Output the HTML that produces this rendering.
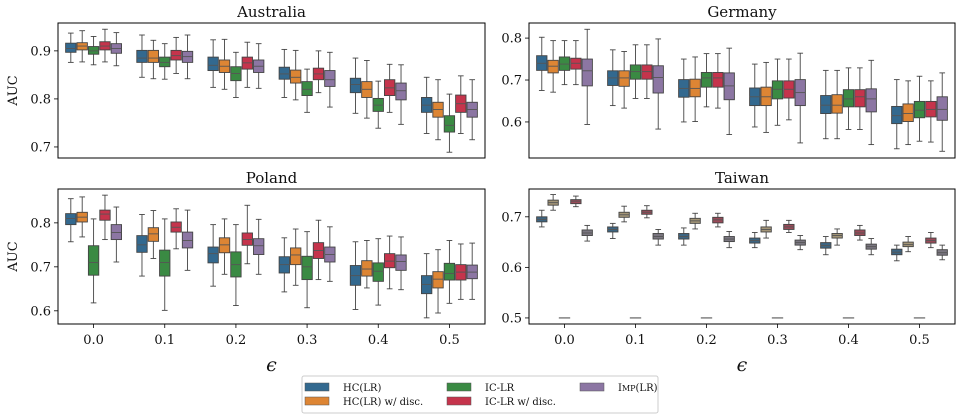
<!DOCTYPE html>
<html><head><meta charset="utf-8">
<style>
body{margin:0;background:#fff;}
svg{display:block;font-family:"DejaVu Serif","Liberation Serif",serif;}
</style></head>
<body>
<svg id="chart" width="960" height="418" viewBox="0 0 960 418" xmlns="http://www.w3.org/2000/svg"></svg>
<script>
const categories = ["0.0","0.1","0.2","0.3","0.4","0.5"];
const methods = ["HC(LR)","HC(LR) w/ disc.","IC-LR","IC-LR w/ disc.","Imp(LR)"];
const colors = ["#33698f","#dd8534","#3a8a43","#c5344c","#8c76a3"];
const twColors = ["#3d6582","#a39577","#4a6a4c","#9a4a58","#7a7680"];

const ausLow=[[.876,.845,.824,.803,.770,.728],[.877,.842,.820,.798,.760,.715],[.871,.841,.803,.772,.739,.689],[.877,.853,.824,.813,.772,.728],[.869,.842,.822,.783,.747,.715]];
const ausQ1=[[.897,.876,.859,.841,.813,.772],[.902,.876,.855,.833,.803,.762],[.893,.867,.838,.807,.774,.731],[.902,.881,.862,.840,.807,.772],[.895,.876,.855,.826,.798,.762]];
const ausMed=[[.905,.885,.870,.852,.830,.787],[.910,.885,.868,.845,.820,.778],[.900,.876,.853,.820,.787,.745],[.910,.890,.875,.852,.823,.790],[.905,.888,.868,.840,.817,.778]];
const ausQ3=[[.916,.901,.887,.866,.843,.803],[.917,.901,.881,.860,.836,.793],[.909,.887,.867,.836,.801,.765],[.919,.901,.887,.864,.840,.808],[.915,.899,.881,.859,.833,.793]];
const ausHigh=[[.937,.933,.923,.903,.885,.845],[.942,.922,.924,.901,.880,.840],[.930,.915,.897,.862,.837,.810],[.945,.928,.918,.900,.872,.848],[.938,.933,.915,.897,.871,.840]];

const gerLow=[[.675,.639,.600,.588,.560,.536],[.671,.633,.601,.575,.560,.546],[.689,.656,.636,.592,.582,.554],[.689,.656,.633,.605,.582,.552],[.594,.583,.570,.550,.546,.530]];
const gerQ1=[[.723,.687,.659,.639,.620,.596],[.717,.685,.660,.639,.621,.601],[.723,.702,.683,.655,.636,.610],[.726,.702,.683,.657,.636,.612],[.686,.669,.653,.639,.624,.604]];
const gerMed=[[.740,.705,.680,.660,.640,.615],[.733,.705,.680,.660,.640,.620],[.738,.720,.705,.678,.655,.628],[.740,.720,.705,.678,.660,.630],[.722,.706,.686,.670,.655,.630]];
const gerQ3=[[.758,.722,.701,.681,.663,.637],[.747,.722,.702,.683,.665,.643],[.755,.736,.718,.698,.677,.649],[.752,.736,.718,.698,.677,.649],[.750,.734,.717,.701,.679,.660]];
const gerHigh=[[.802,.772,.750,.738,.723,.701],[.794,.768,.755,.742,.723,.698],[.794,.784,.763,.750,.729,.709],[.794,.784,.763,.750,.729,.698],[.821,.798,.776,.764,.747,.717]];

const polLow=[[.757,.679,.656,.643,.603,.584],[.768,.719,.683,.658,.652,.595],[.618,.601,.612,.607,.613,.617],[.762,.741,.707,.671,.650,.626],[.711,.692,.683,.667,.648,.626]];
const polQ1=[[.796,.733,.709,.686,.658,.639],[.802,.758,.732,.705,.679,.652],[.681,.679,.677,.671,.667,.670],[.806,.779,.749,.719,.698,.670],[.762,.743,.728,.711,.692,.673]];
const polMed=[[.810,.750,.730,.705,.680,.660],[.813,.775,.750,.727,.695,.672],[.710,.710,.705,.700,.690,.685],[.820,.790,.762,.737,.713,.688],[.778,.760,.748,.728,.712,.688]];
const polQ3=[[.821,.771,.745,.723,.703,.680],[.824,.789,.766,.743,.714,.689],[.748,.738,.734,.724,.709,.708],[.829,.802,.777,.755,.730,.705],[.796,.779,.764,.745,.727,.704]];
const polHigh=[[.855,.819,.796,.766,.757,.730],[.859,.828,.809,.786,.760,.739],[.809,.809,.796,.780,.764,.760],[.863,.832,.840,.806,.770,.752],[.836,.829,.808,.791,.768,.754]];

const twLow=[[.680,.657,.644,.639,.625,.613],[.713,.690,.676,.658,.644,.631],[.5,.5,.5,.5,.5,.5],[.720,.698,.680,.669,.654,.639],[.652,.644,.639,.635,.625,.615]];
const twQ1=[[.690,.670,.656,.648,.638,.625],[.723,.699,.687,.670,.658,.641],[.5,.5,.5,.5,.5,.5],[.726,.705,.688,.675,.663,.648],[.663,.656,.651,.644,.636,.624]];
const twMed=[[.695,.675,.661,.653,.643,.630],[.728,.704,.692,.675,.663,.645],[.5,.5,.5,.5,.5,.5],[.731,.709,.694,.680,.668,.653],[.668,.661,.656,.649,.641,.629]];
const twQ3=[[.700,.680,.667,.658,.649,.636],[.733,.709,.697,.680,.667,.650],[.5,.5,.5,.5,.5,.5],[.734,.713,.699,.685,.674,.658],[.674,.667,.661,.654,.646,.635]];
const twHigh=[[.713,.687,.678,.669,.661,.644],[.744,.721,.707,.693,.676,.661],[.5,.5,.5,.5,.5,.5],[.741,.722,.707,.693,.683,.669],[.683,.675,.671,.663,.657,.644]];

const ausTicks=[0.7,0.8,0.9], gerTicks=[0.6,0.7,0.8], polTicks=[0.6,0.7,0.8], twTicks=[0.5,0.6,0.7];

const NS="http://www.w3.org/2000/svg";
const svg=document.getElementById('chart');
function mk(tag,attrs,parent){const e=document.createElementNS(NS,tag);for(const k in attrs)e.setAttribute(k,attrs[k]);(parent||svg).appendChild(e);return e;}

const panels=[
 {name:"australia",title:"Australia",x0:58,x1:485,y0:23,y1:158,vmin:0.677,vmax:0.958,ticks:ausTicks,low:ausLow,q1:ausQ1,med:ausMed,q3:ausQ3,high:ausHigh,ylab:true,xlab:false,cols:colors},
 {name:"germany",title:"Germany",x0:529,x1:955,y0:23,y1:158,vmin:0.514,vmax:0.836,ticks:gerTicks,low:gerLow,q1:gerQ1,med:gerMed,q3:gerQ3,high:gerHigh,ylab:false,xlab:false,cols:colors},
 {name:"poland",title:"Poland",x0:58,x1:485,y0:189,y1:324,vmin:0.570,vmax:0.877,ticks:polTicks,low:polLow,q1:polQ1,med:polMed,q3:polQ3,high:polHigh,ylab:true,xlab:true,cols:colors},
 {name:"taiwan",title:"Taiwan",x0:529,x1:955,y0:189,y1:324,vmin:0.488,vmax:0.755,ticks:twTicks,low:twLow,q1:twQ1,med:twMed,q3:twQ3,high:twHigh,ylab:false,xlab:true,cols:twColors}
];

panels.forEach(p=>{
  const g=mk('g',{});
  
  
  const yS=v=>p.y1-(v-p.vmin)/(p.vmax-p.vmin)*(p.y1-p.y0);
  const step=(p.x1-p.x0)/categories.length;
  const xS=i=>p.x0+step*(i+0.5);
  const bw=step*0.8/5;
  const t=mk('text',{x:(p.x0+p.x1)/2,y:p.y0-6,'text-anchor':'middle','font-size':15,fill:'#111'},g);
  t.textContent=p.title;
  
  
  p.ticks.forEach(v=>{
    const y=yS(v);
    mk('line',{x1:p.x0-4,x2:p.x0,y1:y,y2:y,stroke:'#000','stroke-width':0.8},g);
    const tl=mk('text',{x:p.x0-7,y:y+4.5,'text-anchor':'end','font-size':13,fill:'#111'},g);
    tl.textContent=v.toFixed(1);
    
    
  });
  if(p.xlab){
    categories.forEach((c,i)=>{
      const x=xS(i);
      mk('line',{x1:x,x2:x,y1:p.y1,y2:p.y1+4,stroke:'#000','stroke-width':0.8},g);
      const tl=mk('text',{x:x,y:p.y1+20,'text-anchor':'middle','font-size':13,fill:'#111'},g);
      tl.textContent=c;
      
      
    });
    const xl=mk('text',{x:(p.x0+p.x1)/2,y:p.y1+47,'text-anchor':'middle','font-size':19,'font-style':'italic',fill:'#111'},g);
    xl.textContent='ϵ';
    
    
  }
  if(p.ylab){
    const yl=mk('text',{x:0,y:0,transform:`translate(17,${(p.y0+p.y1)/2}) rotate(-90)`,'text-anchor':'middle','font-size':13,fill:'#111'},g);
    yl.textContent='AUC';
    
    
  }
  for(let m=0;m<5;m++){
    for(let i=0;i<6;i++){
      const cx=xS(i)+(m-2)*bw;
      const lo=yS(p.low[m][i]),a=yS(p.q1[m][i]),md=yS(p.med[m][i]),b=yS(p.q3[m][i]),hi=yS(p.high[m][i]);
      const bg=mk('g',{},g);
      
      
      if(Math.abs(a-b)<0.5 && Math.abs(lo-hi)<0.5){
        mk('line',{x1:cx-bw/2,x2:cx+bw/2,y1:md,y2:md,stroke:'#444','stroke-width':1},bg);
        continue;
      }
      mk('line',{x1:cx,x2:cx,y1:hi,y2:b,stroke:'#444','stroke-width':0.9},bg);
      mk('line',{x1:cx,x2:cx,y1:a,y2:lo,stroke:'#444','stroke-width':0.9},bg);
      mk('line',{x1:cx-bw/4,x2:cx+bw/4,y1:hi,y2:hi,stroke:'#444','stroke-width':0.9},bg);
      mk('line',{x1:cx-bw/4,x2:cx+bw/4,y1:lo,y2:lo,stroke:'#444','stroke-width':0.9},bg);
      mk('rect',{x:cx-bw/2+0.5,y:b,width:bw-1,height:Math.max(a-b,1),fill:p.cols[m],stroke:'#444','stroke-width':0.9},bg);
      mk('line',{x1:cx-bw/2+0.5,x2:cx+bw/2-0.5,y1:md,y2:md,stroke:'#555','stroke-width':0.9},bg);
    }
  }
  const fr=mk('rect',{x:p.x0,y:p.y0,width:p.x1-p.x0,height:p.y1-p.y0,fill:'none',stroke:'#000','stroke-width':1},g);
  
  
});

// legend
const lg=mk('g',{});


mk('rect',{x:302,y:376,width:356,height:37,rx:2,fill:'#fff',stroke:'#ccc','stroke-width':1},lg);
const lx=[305,447,580], ly=[388,402];
methods.forEach((mname,k)=>{
  const col=Math.floor(k/2), row=k%2;
  const e=mk('g',{},lg);
  
  
  mk('rect',{x:lx[col],y:ly[row]-5,width:24,height:8,fill:colors[k],stroke:'#555','stroke-width':0.5},e);
  const tx=mk('text',{x:lx[col]+38,y:ly[row]+3,'font-size':10,fill:'#111'},e);
  if(k===4){tx.innerHTML='I<tspan font-size="8">MP</tspan>(LR)';}
  else tx.textContent=mname;
});
</script>
</body></html>
